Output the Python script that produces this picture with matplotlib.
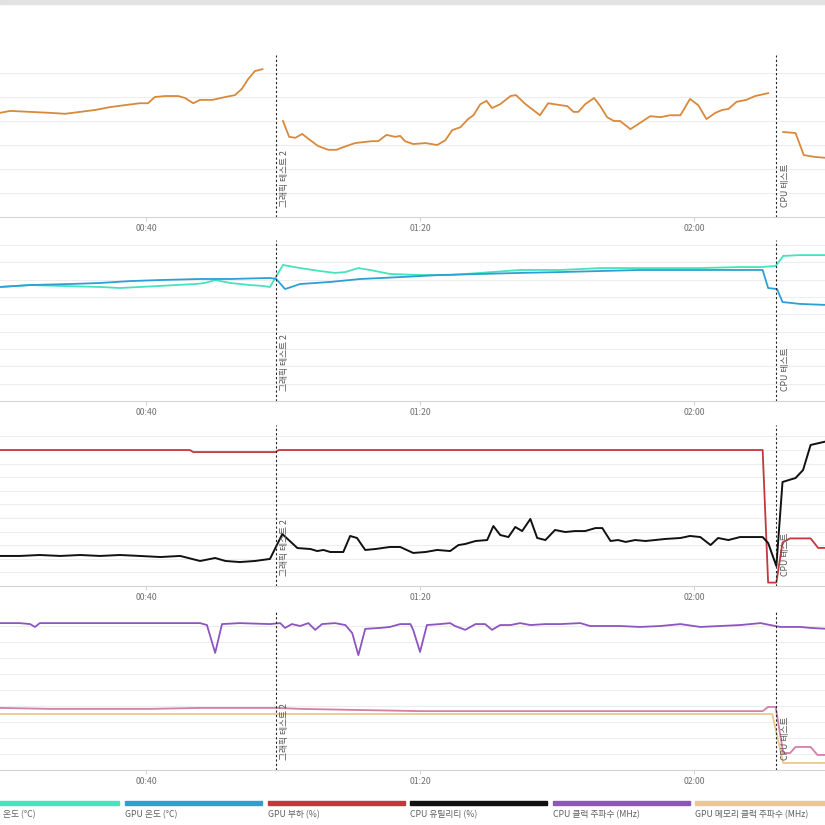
import numpy as np
import matplotlib
matplotlib.use("Agg")
import matplotlib.pyplot as plt
from matplotlib.patches import Rectangle

plt.rcParams['font.family'] = ['Noto Sans CJK KR', 'DejaVu Sans']

# 시간 (분)
nan = np.nan

# 패널 1 - 주황색 선 (구간마다 끊김)
t_orange = [18.7, 20.2, 23.1, 26.0, 28.2, 30.4, 32.6, 34.8, 36.9, 39.1, 40.3, 41.3, 42.8, 44.7,
            45.7, 46.9, 47.9, 49.7, 51.6, 53.0, 54.0, 54.9, 55.9, 57.0, 58.5,
            60.0, 60.9, 61.8, 62.8, 63.7, 65.1, 66.6, 67.8, 68.9, 70.5, 73.0, 73.9, 75.1, 76.4,
            77.1, 77.8, 79.0, 80.8, 82.5, 83.7, 84.7, 85.9, 87.0, 87.8, 88.8, 89.7, 90.5, 91.7,
            93.2, 94.0, 95.4, 96.5, 97.5, 98.7, 100.5, 101.5, 102.4, 103.1, 104.1, 105.4, 106.3,
            107.3, 108.3, 109.2, 110.7, 112.1, 113.6, 115.1, 116.5, 118.0, 119.4, 120.6, 121.8,
            123.1, 124.1, 125.0, 126.2, 127.6, 128.9, 130.8, 132.0,
            133.0, 134.8, 136.0, 137.7, 139.5]
v_orange = [51.7, 52.1, 51.9, 51.7, 51.5, 51.9, 52.3, 52.9, 53.3, 53.7, 53.7, 55.0, 55.2, 55.2,
            54.8, 53.7, 54.4, 54.4, 55.0, 55.4, 56.7, 58.7, 60.4, 60.8, nan,
            50.0, 46.7, 46.5, 47.3, 46.3, 44.8, 44.0, 44.0, 44.6, 45.4, 45.8, 45.8, 47.1, 46.7,
            46.9, 45.8, 45.2, 45.4, 45.0, 46.0, 48.1, 48.7, 50.4, 51.2, 53.5, 54.2, 52.7, 53.5,
            55.2, 55.4, 53.5, 52.3, 51.2, 53.7, 53.3, 53.1, 51.9, 51.9, 53.5, 54.8, 53.1,
            50.8, 50.0, 50.0, 48.3, 49.6, 51.0, 50.8, 51.2, 51.2, 54.6, 53.3, 50.4,
            51.7, 52.3, 52.5, 54.0, 54.4, 55.2, 55.8, nan,
            47.7, 47.5, 42.9, 42.5, 42.3]

# 패널 2 - 온도
t_cpu_temp = [18.7, 23.1, 27.5, 33.3, 36.2, 39.1, 42.1, 44.3, 47.2, 48.6, 50.1, 52.3, 55.2, 57.0,
              58.1, 60.0, 62.5, 65.4, 67.6, 69.1, 71.0, 72.7, 75.6, 80.0, 84.4, 88.8, 94.6,
              100.5, 106.3, 112.1, 120.9, 126.7, 129.7, 131.9, 133.0, 135.5, 139.5]
cpu_temp = [65.8, 66.9, 66.4, 65.8, 65.2, 65.8, 66.4, 66.9, 67.5, 68.1, 69.8, 68.1, 66.9, 66.4,
            65.8, 78.5, 76.7, 75.0, 73.9, 74.4, 76.7, 75.6, 73.3, 72.7, 72.7, 73.9, 75.6,
            75.6, 76.7, 76.7, 76.7, 77.3, 77.3, 77.9, 83.7, 84.2, 84.2]
t_gpu_temp = [18.7, 23.1, 28.9, 33.3, 37.7, 42.1, 47.9, 52.3, 58.1, 59.0, 60.3, 62.5, 66.9, 71.3,
              77.1, 82.9, 88.8, 94.6, 100.5, 106.3, 112.1, 120.9, 130.0, 130.8, 132.1, 132.9,
              135.5, 139.5]
gpu_temp = [65.8, 66.9, 67.5, 68.1, 69.2, 69.8, 70.4, 70.4, 71.0, 70.4, 64.6, 67.5, 68.7, 70.4,
            71.5, 72.7, 73.3, 73.9, 74.4, 75.0, 75.6, 75.6, 75.6, 65.2, 64.6, 57.1,
            56.0, 55.4]

# 패널 3 - 부하 / 유틸리티
t_gpu_load = [18.7, 46.4, 46.9, 58.9, 59.4, 130.0, 130.8, 132.0, 132.9, 134.0, 137.0, 138.1, 139.5]
gpu_load = [100, 100, 98.5, 98.5, 100, 100, 2.5, 2.5, 32, 35, 35, 28, 28]
t_cpu_util = [18.7, 21.6, 24.5, 27.5, 30.4, 33.3, 36.2, 39.1, 42.1, 45.0, 47.9, 50.1, 51.6, 53.7,
              55.9, 58.1, 59.9, 62.1, 64.0, 65.0, 65.9, 66.9, 68.8, 69.8, 70.8, 72.0, 73.5, 75.6,
              77.1, 79.0, 80.8, 82.5, 84.4, 85.6, 86.6, 88.1, 89.8, 90.7, 91.7, 92.9, 93.9, 94.9,
              96.1, 97.1, 98.3, 99.7, 101.2, 102.6, 104.1, 105.6, 106.6, 107.8, 108.9, 110.0,
              111.4, 112.9, 114.3, 115.8, 118.0, 119.4, 120.9, 122.4, 123.5, 125.0, 126.7, 130.0,
              130.8, 132.0, 132.9, 134.8, 135.9, 137.0, 139.5]
cpu_util = [22.1, 22.1, 22.8, 22.1, 22.8, 22.1, 22.8, 22.1, 21.3, 22.1, 18.4, 20.6, 18.4, 17.6,
            18.4, 19.9, 38.2, 27.9, 27.2, 25.7, 26.5, 25.0, 25.0, 36.8, 35.3, 26.5, 27.2, 28.7,
            28.7, 24.3, 25.0, 26.5, 25.7, 30.1, 30.9, 33.1, 33.8, 44.1, 37.5, 36.0, 43.4, 40.4,
            49.3, 35.3, 33.8, 41.2, 39.7, 40.4, 40.4, 42.6, 42.6, 33.1, 33.8, 32.4,
            33.8, 33.1, 33.8, 34.6, 35.3, 36.8, 36.0, 30.1, 35.3, 33.8, 36.0, 36.0,
            31.6, 14.7, 76.5, 79.4, 85.3, 103.7, 106.6]

# 패널 4 - 클럭
t_cpu_clock = [18.7, 21.6, 23.1, 23.8, 24.5, 27.5, 33.3, 40.6, 47.9, 48.9, 50.1, 51.1, 53.7, 58.1,
               59.6, 60.3, 61.3, 62.5, 63.7, 64.7, 65.7, 67.6, 69.1, 70.1, 71.0, 72.0, 74.2, 75.6,
               77.1, 78.6, 79.0, 80.0, 81.0, 82.9, 84.4, 85.1, 86.6, 88.1, 89.5, 90.5, 91.7, 93.2,
               94.6, 96.1, 98.3, 100.5, 103.4, 104.8, 106.3, 109.2, 112.1, 115.1, 118.0, 120.9,
               123.8, 126.7, 129.7, 131.1, 132.6, 135.5, 137.0, 139.5]
cpu_clock = [4590, 4590, 4560, 4470, 4590, 4590, 4590, 4590, 4590, 4530, 3660, 4560, 4590, 4560,
             4590, 4440, 4560, 4500, 4590, 4380, 4560, 4590, 4530, 4280, 3590, 4410, 4440, 4470,
             4560, 4560, 4380, 3690, 4530, 4560, 4590, 4500, 4380, 4560, 4560, 4380, 4530, 4530,
             4590, 4530, 4560, 4560, 4590, 4500, 4500, 4500, 4470, 4500, 4560, 4470,
             4500, 4530, 4590, 4530, 4470, 4470, 4440, 4410]
t_gpu_clock = [18.7, 26.0, 33.3, 40.6, 47.9, 59.0, 62.5, 69.8, 80.0, 91.7, 106.3, 120.9, 130.0,
               130.8, 131.9, 133.0, 134.0, 134.8, 137.0, 138.0, 139.5]
gpu_clock = [1940, 1910, 1910, 1910, 1940, 1940, 1910, 1880, 1840, 1840, 1840, 1840, 1840,
             1970, 1970, 530, 530, 720, 720, 470, 470]
t_gpu_mem = [18.7, 131.4, 133.0, 139.5]
gpu_mem = [1750, 1750, 220, 220]

# 테스트 구간 표시
events = [59.0, 132.0]
event_labels = ['그래픽 테스트 2', 'CPU 테스트']

xticks = [40, 80, 120]
xtick_labels = ['00:40', '01:20', '02:00']

legend_labels = ['온도 (°C)', 'GPU 온도 (°C)', 'GPU 부하 (%)', 'CPU 유틸리티 (%)',
                 'CPU 클럭 주파수 (MHz)', 'GPU 메모리 클럭 주파수 (MHz)']
legend_colors = ['#45E3BE', '#2E9FD4', '#C4373C', '#111111', '#8C55C0', '#EAC88E']

W, H = 825, 825
fig = plt.figure(figsize=(W / 100, H / 100), dpi=100)
fig.patch.set_facecolor('white')

# 상단 회색 띠
fig.patches.append(Rectangle((0, 1 - 4 / H), 1, 4 / H, transform=fig.transFigure,
                             color='#E2E2E2', zorder=0))


def make_ax(top, bottom, ylim, yticks):
    ax = fig.add_axes([0, 1 - bottom / H, 1, (bottom - top) / H])
    ax.set_xlim(18.7, 139.1)
    ax.set_ylim(*ylim)
    ax.set_yticks(yticks)
    ax.grid(axis='y', color='#EDEDED', lw=0.8)
    ax.set_axisbelow(True)
    for s in ['top', 'left', 'right']:
        ax.spines[s].set_visible(False)
    ax.spines['bottom'].set_color('#D4D4D4')
    ax.spines['bottom'].set_linewidth(0.8)
    ax.tick_params(axis='y', left=False, labelleft=False)
    ax.set_xticks(xticks)
    ax.set_xticklabels(xtick_labels)
    ax.tick_params(axis='x', length=3, width=0.6, color='#C8C8C8', labelsize=6.3,
                   labelcolor='#707070', pad=2)
    ax.patch.set_alpha(0)
    return ax


ax1 = make_ax(55, 217, (30, 63.75), [35, 40, 45, 50, 55, 60])
ax2 = make_ax(240, 401, (0, 92.9), list(range(10, 91, 10)))
ax3 = make_ax(425, 586, (0, 118.4), list(range(10, 111, 10)))
ax4 = make_ax(610, 770, (0, 5000), list(range(500, 4501, 500)))

ax1.plot(t_orange, v_orange, color='#D8893B', lw=1.3)

ax2.plot(t_cpu_temp, cpu_temp, color=legend_colors[0], lw=1.3)
ax2.plot(t_gpu_temp, gpu_temp, color=legend_colors[1], lw=1.3)

ax3.plot(t_gpu_load, gpu_load, color=legend_colors[2], lw=1.3)
ax3.plot(t_cpu_util, cpu_util, color=legend_colors[3], lw=1.4)

ax4.plot(t_gpu_mem, gpu_mem, color=legend_colors[5], lw=1.3)
ax4.plot(t_gpu_clock, gpu_clock, color='#D47FA6', lw=1.3)
ax4.plot(t_cpu_clock, cpu_clock, color=legend_colors[4], lw=1.3)

# 이벤트 세로선과 라벨
for ax in [ax1, ax2, ax3, ax4]:
    for ev, lab in zip(events, event_labels):
        ax.axvline(ev, color='#222222', lw=0.8, ls=(0, (2, 2)))
        ax.annotate(lab, xy=(ev, 0), xycoords=('data', 'axes fraction'),
                    xytext=(3, 7), textcoords='offset points', rotation=90,
                    ha='left', va='bottom', fontsize=6.3, color='#555555')

# 범례 (수동)
step = 142.6
for i, (lab, col) in enumerate(zip(legend_labels, legend_colors)):
    left = -17.6 + i * step
    fig.patches.append(Rectangle((left / W, 1 - 805 / H), 137 / W, 4 / H,
                                 transform=fig.transFigure, color=col))
    tx = max(left, 3)
    fig.text(tx / W, 1 - 815 / H, lab, ha='left', va='center', fontsize=6.3, color='#606060')

plt.savefig('out.png', dpi=100)
print("finish")
